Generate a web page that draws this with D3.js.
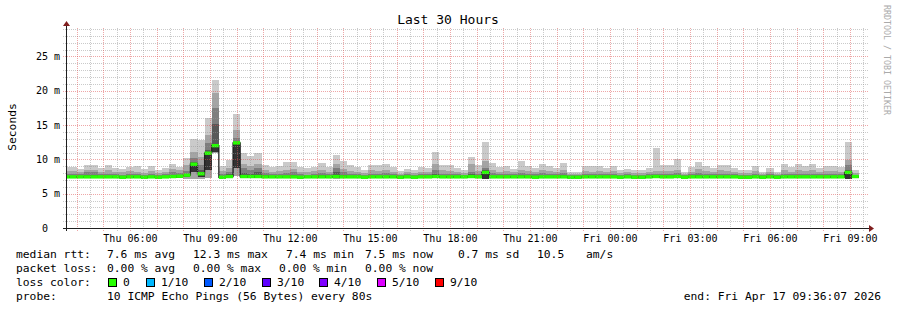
<!DOCTYPE html>
<html>
<head>
<meta charset="utf-8">
<script src="https://cdn.jsdelivr.net/npm/d3@7"></script>
<style>
body { margin: 0; background: #fff; }
svg text { font-family: "DejaVu Sans Mono", monospace; }
</style>
</head>
<body>
<script>
/*
*    smokeping graph, last 30 hours
*/

var width = 897;
var height = 310;
var plot = {left: 66, right: 866, top: 28, bottom: 228};

// time window
var endTime = new Date(2026, 3, 17, 9, 36, 7);
var startTime = new Date(endTime.getTime() - 30 * 3600 * 1000);
var firstBin = new Date(2026, 3, 16, 3, 28, 0);
var binMinutes = 16;

// 10 pings per bin, only the ones needed for the smoke bands (ms)
var pingMax = [
  8.9, 8.9, 8.6, 9.2, 9.2, 8.8, 9.2, 8.8, 8.6, 8.9, 9.0, 8.6, 9.0, 8.5,
  8.8, 9.3, 8.9, 10.2, 12.9, 12.8, 16.1, 21.6, 9.1, 9.9, 16.6, 11.0, 10.5, 10.9,
  9.2, 8.9, 9.0, 9.6, 9.6, 8.9, 8.7, 8.9, 9.5, 8.9, 10.6, 9.8, 9.2, 8.9,
  8.4, 9.2, 9.2, 9.3, 8.9, 8.3, 8.6, 8.4, 8.9, 8.8, 11.1, 9.2, 9.2, 8.7,
  8.5, 10.3, 9.2, 12.5, 9.5, 8.9, 9.0, 8.6, 9.7, 9.0, 8.8, 9.3, 9.1, 8.7,
  9.5, 8.2, 8.2, 9.0, 9.0, 9.0, 8.8, 9.0, 8.4, 8.6, 8.5, 8.5, 8.7, 11.7,
  9.2, 9.2, 10.1, 8.1, 8.9, 9.6, 9.0, 8.7, 9.2, 9.2, 8.7, 8.4, 8.4, 9.0,
  8.2, 8.7, 8.2, 9.3, 8.9, 9.3, 9.0, 9.3, 8.8, 9.1, 9.1, 8.9, 12.6, 8.5
];
var ping9 = [
  8.3, 8.3, 8.1, 8.4, 8.4, 8.2, 8.4, 8.1, 8.2, 8.3, 8.2, 8.0, 8.3, 8.0,
  8.2, 8.6, 8.4, 9.2, 11.1, 10.4, 13.6, 19.7, 8.3, 8.7, 14.3, 9.4, 9.0, 9.3,
  8.4, 8.2, 8.3, 8.5, 8.6, 8.2, 8.1, 8.3, 8.5, 8.2, 9.4, 8.6, 8.3, 8.2,
  8.0, 8.4, 8.3, 8.4, 8.2, 7.9, 8.1, 8.0, 8.2, 8.2, 9.4, 8.4, 8.3, 8.1,
  8.0, 9.4, 8.3, 9.7, 8.5, 8.2, 8.3, 8.1, 8.5, 8.3, 8.1, 8.4, 8.3, 8.1,
  8.5, 7.9, 7.9, 8.3, 8.2, 8.3, 8.2, 8.3, 8.0, 8.1, 8.0, 8.0, 8.1, 8.3,
  8.3, 8.3, 8.5, 7.9, 8.2, 8.6, 8.3, 8.1, 8.4, 8.3, 8.1, 8.0, 8.0, 8.3,
  7.9, 8.1, 7.9, 8.4, 8.2, 8.4, 8.3, 8.4, 8.1, 8.3, 8.3, 8.2, 9.9, 8.0
];
var ping8 = [
  7.9, 7.8, 7.8, 8.1, 8.1, 7.8, 7.9, 7.8, 7.7, 7.9, 7.8, 7.7, 7.9, 7.7,
  7.8, 8.1, 8.0, 8.3, 10.2, 9.2, 12.4, 17.5, 7.9, 8.2, 13.1, 8.7, 8.4, 8.7,
  8.0, 7.8, 7.9, 8.0, 8.1, 7.8, 7.7, 7.9, 8.0, 7.8, 8.7, 8.1, 7.9, 7.8,
  7.7, 7.9, 7.9, 8.0, 7.8, 7.7, 7.8, 7.7, 7.8, 7.8, 8.4, 7.9, 7.9, 7.8,
  7.7, 8.2, 7.9, 8.7, 8.0, 7.8, 7.9, 7.8, 8.0, 7.9, 7.8, 8.0, 7.9, 7.8,
  8.0, 7.7, 7.7, 7.9, 7.8, 7.9, 7.8, 7.9, 7.7, 7.8, 7.7, 7.7, 7.8, 7.9,
  7.9, 7.9, 8.0, 7.7, 7.8, 8.0, 7.9, 7.8, 7.9, 7.9, 7.8, 7.7, 7.7, 7.9,
  7.7, 7.8, 7.7, 7.9, 7.8, 7.9, 7.9, 7.9, 7.8, 7.9, 7.9, 7.8, 9.2, 7.7
];
var ping7 = [
  7.6, 7.6, 7.6, 7.7, 7.7, 7.6, 7.6, 7.6, 7.55, 7.6, 7.6, 7.55, 7.6, 7.55,
  7.6, 7.7, 7.7, 7.9, 9.6, 8.4, 11.4, 15.1, 7.6, 7.8, 12.6, 8.0, 7.9, 8.2,
  7.7, 7.6, 7.6, 7.6, 7.7, 7.6, 7.55, 7.6, 7.7, 7.6, 8.2, 7.7, 7.6, 7.6,
  7.55, 7.6, 7.6, 7.6, 7.6, 7.55, 7.6, 7.55, 7.6, 7.6, 7.9, 7.6, 7.6, 7.6,
  7.55, 7.8, 7.6, 8.4, 7.6, 7.6, 7.6, 7.6, 7.7, 7.6, 7.6, 7.6, 7.6, 7.6,
  7.7, 7.55, 7.55, 7.6, 7.6, 7.6, 7.6, 7.6, 7.55, 7.6, 7.55, 7.55, 7.6, 7.6,
  7.6, 7.6, 7.7, 7.55, 7.6, 7.7, 7.6, 7.6, 7.6, 7.6, 7.6, 7.55, 7.55, 7.6,
  7.55, 7.6, 7.55, 7.6, 7.6, 7.6, 7.6, 7.6, 7.6, 7.6, 7.6, 7.6, 8.5, 7.55
];
var median = [
  7.45, 7.45, 7.45, 7.45, 7.45, 7.45, 7.45, 7.45, 7.4, 7.45, 7.45, 7.4, 7.45, 7.4,
  7.45, 7.5, 7.55, 7.7, 9.3, 7.9, 10.9, 12.0, 7.4, 7.5, 12.4, 7.5, 7.5, 7.5,
  7.45, 7.45, 7.45, 7.45, 7.45, 7.4, 7.45, 7.45, 7.45, 7.45, 7.5, 7.45, 7.45, 7.45,
  7.4, 7.45, 7.45, 7.45, 7.45, 7.4, 7.45, 7.4, 7.45, 7.45, 7.5, 7.45, 7.45, 7.45,
  7.45, 7.5, 7.45, 8.1, 7.45, 7.45, 7.45, 7.45, 7.45, 7.45, 7.4, 7.45, 7.45, 7.45,
  7.45, 7.4, 7.4, 7.45, 7.45, 7.45, 7.45, 7.45, 7.4, 7.45, 7.4, 7.4, 7.45, 7.5,
  7.45, 7.45, 7.5, 7.4, 7.45, 7.45, 7.45, 7.45, 7.45, 7.45, 7.45, 7.4, 7.4, 7.45,
  7.4, 7.45, 7.4, 7.45, 7.45, 7.45, 7.45, 7.45, 7.45, 7.45, 7.45, 7.45, 8.1, 7.5
];
var pingLow = [
  7.35, 7.35, 7.35, 7.35, 7.35, 7.35, 7.35, 7.35, 7.3, 7.35, 7.35, 7.3, 7.35, 7.3,
  7.35, 7.35, 7.35, 7.4, 8.2, 7.4, 8.5, 11.1, 7.3, 7.35, 8.7, 7.35, 7.35, 7.35,
  7.35, 7.35, 7.35, 7.35, 7.35, 7.3, 7.35, 7.35, 7.35, 7.35, 7.3, 7.35, 7.35, 7.35,
  7.3, 7.35, 7.35, 7.35, 7.35, 7.3, 7.35, 7.3, 7.35, 7.35, 7.35, 7.35, 7.35, 7.35,
  7.35, 7.35, 7.35, 7.2, 7.35, 7.35, 7.35, 7.35, 7.35, 7.35, 7.3, 7.35, 7.35, 7.35,
  7.35, 7.3, 7.3, 7.35, 7.35, 7.35, 7.35, 7.35, 7.3, 7.35, 7.3, 7.3, 7.35, 7.35,
  7.35, 7.35, 7.35, 7.3, 7.35, 7.35, 7.35, 7.35, 7.35, 7.35, 7.35, 7.3, 7.3, 7.35,
  7.3, 7.35, 7.3, 7.35, 7.35, 7.35, 7.35, 7.35, 7.35, 7.35, 7.35, 7.35, 7.2, 7.35
];
var pingMin = [
  7.25, 7.25, 7.25, 7.25, 7.25, 7.25, 7.25, 7.25, 7.2, 7.25, 7.25, 7.2, 7.25, 7.2,
  7.25, 7.25, 7.25, 7.2, 7.2, 7.1, 7.3, 11.0, 7.2, 7.25, 7.6, 7.25, 7.25, 7.25,
  7.25, 7.25, 7.25, 7.25, 7.25, 7.2, 7.25, 7.25, 7.25, 7.25, 7.2, 7.25, 7.25, 7.25,
  7.2, 7.25, 7.25, 7.25, 7.25, 7.2, 7.25, 7.2, 7.25, 7.25, 7.25, 7.25, 7.25, 7.25,
  7.25, 7.25, 7.25, 7.1, 7.25, 7.25, 7.25, 7.25, 7.25, 7.25, 7.2, 7.25, 7.25, 7.25,
  7.25, 7.2, 7.2, 7.25, 7.25, 7.25, 7.25, 7.25, 7.2, 7.25, 7.2, 7.2, 7.25, 7.25,
  7.25, 7.25, 7.25, 7.2, 7.25, 7.25, 7.25, 7.25, 7.25, 7.25, 7.25, 7.2, 7.2, 7.25,
  7.2, 7.25, 7.2, 7.25, 7.25, 7.25, 7.25, 7.25, 7.25, 7.25, 7.25, 7.25, 7.1, 7.25
];

// axis ticks
var yTicks = [0, 5, 10, 15, 20, 25];
var yTickLabels = ["0\u00a0\u00a0", "5 m", "10 m", "15 m", "20 m", "25 m"];
var yMax = 29.15;

// legend
var rttStats = ["7.6 ms avg", "12.3 ms max", "7.4 ms min", "7.5 ms now", "0.7 ms sd", "10.5", "am/s"];
var lossStats = ["0.00 % avg", "0.00 % max", "0.00 % min", "0.00 % now"];
var lossLabels = ["0", "1/10", "2/10", "3/10", "4/10", "5/10", "9/10"];
var lossColors = ["#26ff00", "#00b8ff", "#0059ff", "#5e00ff", "#7e00ff", "#dd00ff", "#ff0000"];
var probeText = "10 ICMP Echo Pings (56 Bytes) every 80s";
var endText = "end: Fri Apr 17 09:36:07 2026";

// legend layout
var rttX = [107, 193, 286, 365, 458, 537, 586];
var lossX = [107, 193, 279, 365];
var boxX = [108, 146, 204, 262, 319, 377, 435];

//Scales
var x = d3.scaleTime()
    .domain([startTime, endTime])
    .range([plot.left, plot.right]);

var y = d3.scaleLinear()
    .domain([0, yMax])
    .range([plot.bottom, plot.top]);

var smokeColors = ["#cacaca", "#a4a4a4", "#7e7e7e", "#585858", "#323232"];
var bands = [
    {lo: pingMin, hi: pingMax},
    {lo: pingMin, hi: ping9},
    {lo: pingLow, hi: ping8},
    {lo: pingLow, hi: ping7},
    {lo: pingLow, hi: median}
];

function binStart(i) { return d3.timeMinute.offset(firstBin, i * binMinutes); }
function binEnd(i) { return d3.timeMinute.offset(firstBin, (i + 1) * binMinutes); }

//Canvas
var svg = d3.select("body")
    .append("svg")
        .attr("width", width)
        .attr("height", height);

svg.append("rect")
    .attr("width", width)
    .attr("height", height)
    .attr("fill", "#fff");

svg.append("clipPath")
    .attr("id", "clip")
    .append("rect")
        .attr("x", plot.left + 1)
        .attr("y", plot.top)
        .attr("width", plot.right - plot.left)
        .attr("height", plot.bottom - plot.top);

var g = svg.append("g").attr("clip-path", "url(#clip)");

//Smoke
bands.forEach(function(b, j) {
    g.append("g")
        .attr("fill", smokeColors[j])
        .attr("shape-rendering", "crispEdges")
        .selectAll("rect")
        .data(median)
        .enter()
        .append("rect")
            .attr("x", (d, i) => x(binStart(i)))
            .attr("width", (d, i) => x(binEnd(i)) - x(binStart(i)))
            .attr("y", (d, i) => y(b.hi[i]))
            .attr("height", (d, i) => Math.max(0, y(b.lo[i]) - y(b.hi[i])));
});

// median step line
var stepPts = [];
median.forEach(function(m, i) {
    stepPts.push([x(binStart(i)), y(m)]);
    stepPts.push([x(binEnd(i)), y(m)]);
});
g.append("path")
    .attr("d", d3.line()(stepPts))
    .attr("fill", "none")
    .attr("stroke", "#202020")
    .attr("stroke-width", 1.3);

// median, coloured by loss (all 0 here)
g.append("g")
    .attr("fill", lossColors[0])
    .selectAll("rect")
    .data(median)
    .enter()
    .append("rect")
        .attr("x", (d, i) => x(binStart(i)))
        .attr("width", (d, i) => x(binEnd(i)) - x(binStart(i)))
        .attr("y", d => y(d) - 1.7)
        .attr("height", 3.4);

//Grid
var minorY = d3.range(1, 30).filter(v => v % 5 != 0);
var majorY = [5, 10, 15, 20, 25];
var minorX = d3.timeMinute.every(30).range(startTime, endTime).filter(t => t.getMinutes() != 0);
var majorX = d3.timeHour.every(1).range(startTime, endTime);

var grid = svg.append("g")
    .attr("fill", "none")
    .attr("stroke-width", 1)
    .attr("stroke-dasharray", "1,1");

function hLines(vals, color) {
    grid.append("g").attr("stroke", color)
        .selectAll("line").data(vals).enter().append("line")
            .attr("x1", plot.left - 3).attr("x2", plot.right + 2)
            .attr("y1", d => Math.round(y(d)) + 0.5)
            .attr("y2", d => Math.round(y(d)) + 0.5);
}
function vLines(vals, color) {
    grid.append("g").attr("stroke", color)
        .selectAll("line").data(vals).enter().append("line")
            .attr("y1", plot.top).attr("y2", plot.bottom + 3)
            .attr("x1", d => Math.round(x(d)) + 0.5)
            .attr("x2", d => Math.round(x(d)) + 0.5);
}
hLines(minorY, "rgba(150,150,150,0.5)");
vLines(minorX, "rgba(150,150,150,0.5)");
hLines(majorY, "rgba(222,80,80,0.5)");
vLines(majorX, "rgba(222,80,80,0.5)");

//Axes
svg.append("line")
    .attr("x1", plot.left - 3).attr("x2", plot.right + 3)
    .attr("y1", plot.bottom + 0.5).attr("y2", plot.bottom + 0.5)
    .attr("stroke", "#1f1f1f");
svg.append("line")
    .attr("x1", plot.left + 0.5).attr("x2", plot.left + 0.5)
    .attr("y1", plot.bottom + 3).attr("y2", plot.top - 3)
    .attr("stroke", "#1f1f1f");
svg.append("path")
    .attr("d", "M" + (plot.right + 3) + "," + (plot.bottom - 3) + "l5,3.5l-5,3.5z")
    .attr("fill", "#801f1f");
svg.append("path")
    .attr("d", "M" + (plot.left - 3) + "," + (plot.top - 2) + "l3.5,-5l3.5,5z")
    .attr("fill", "#801f1f");

var bottomAxis = d3.axisBottom(x)
    .ticks(d3.timeHour.every(3))
    .tickFormat(d3.timeFormat("%a %H:%M"))
    .tickSize(0);
svg.append("g")
    .attr("transform", "translate(0," + plot.bottom + ")")
    .call(bottomAxis)
    .call(a => a.select(".domain").remove())
    .selectAll("text")
        .attr("y", 13.5)
        .attr("dy", null)
        .attr("font-size", 10)
        .attr("font-family", "DejaVu Sans Mono")
        .attr("fill", "#000");

var leftAxis = d3.axisLeft(y)
    .tickValues(yTicks)
    .tickFormat((d, i) => yTickLabels[i])
    .tickSize(0)
    .tickPadding(6);
svg.append("g")
    .attr("transform", "translate(" + plot.left + ",0)")
    .call(leftAxis)
    .call(a => a.select(".domain").remove())
    .selectAll("text")
        .attr("font-size", 10)
        .attr("font-family", "DejaVu Sans Mono")
        .attr("fill", "#000");

//Titles
svg.append("text")
    .attr("x", 448)
    .attr("y", 24)
    .attr("text-anchor", "middle")
    .attr("font-size", 13)
    .text("Last 30 Hours");

svg.append("text")
    .attr("transform", "translate(16,127) rotate(-90)")
    .attr("text-anchor", "middle")
    .attr("font-size", 11.3)
    .text("Seconds");

svg.append("text")
    .attr("transform", "translate(884,5) rotate(90)")
    .attr("font-size", 8.3)
    .attr("fill", "#aaa")
    .text("RRDTOOL / TOBI OETIKER");

//Legend
var legend = svg.append("g").attr("font-size", 11.3).attr("fill", "#000");

legend.append("text").attr("x", 16).attr("y", 258).text("median rtt:");
legend.selectAll(".rtt").data(rttStats).enter().append("text")
    .attr("x", (d, i) => rttX[i]).attr("y", 258).text(d => d);

legend.append("text").attr("x", 16).attr("y", 272).text("packet loss:");
legend.selectAll(".loss").data(lossStats).enter().append("text")
    .attr("x", (d, i) => lossX[i]).attr("y", 272).text(d => d);

legend.append("text").attr("x", 16).attr("y", 286).text("loss color:");
legend.selectAll(".box").data(lossColors).enter().append("rect")
    .attr("x", (d, i) => boxX[i] + 0.5).attr("y", 278.5)
    .attr("width", 8).attr("height", 8)
    .attr("fill", d => d)
    .attr("stroke", "#000");
legend.selectAll(".lc").data(lossLabels).enter().append("text")
    .attr("x", (d, i) => boxX[i] + 15).attr("y", 286).text(d => d);

legend.append("text").attr("x", 16).attr("y", 300).text("probe:");
legend.append("text").attr("x", 107).attr("y", 300).text(probeText);
legend.append("text").attr("x", 881).attr("y", 300).attr("text-anchor", "end").text(endText);
</script>
</body>
</html>
